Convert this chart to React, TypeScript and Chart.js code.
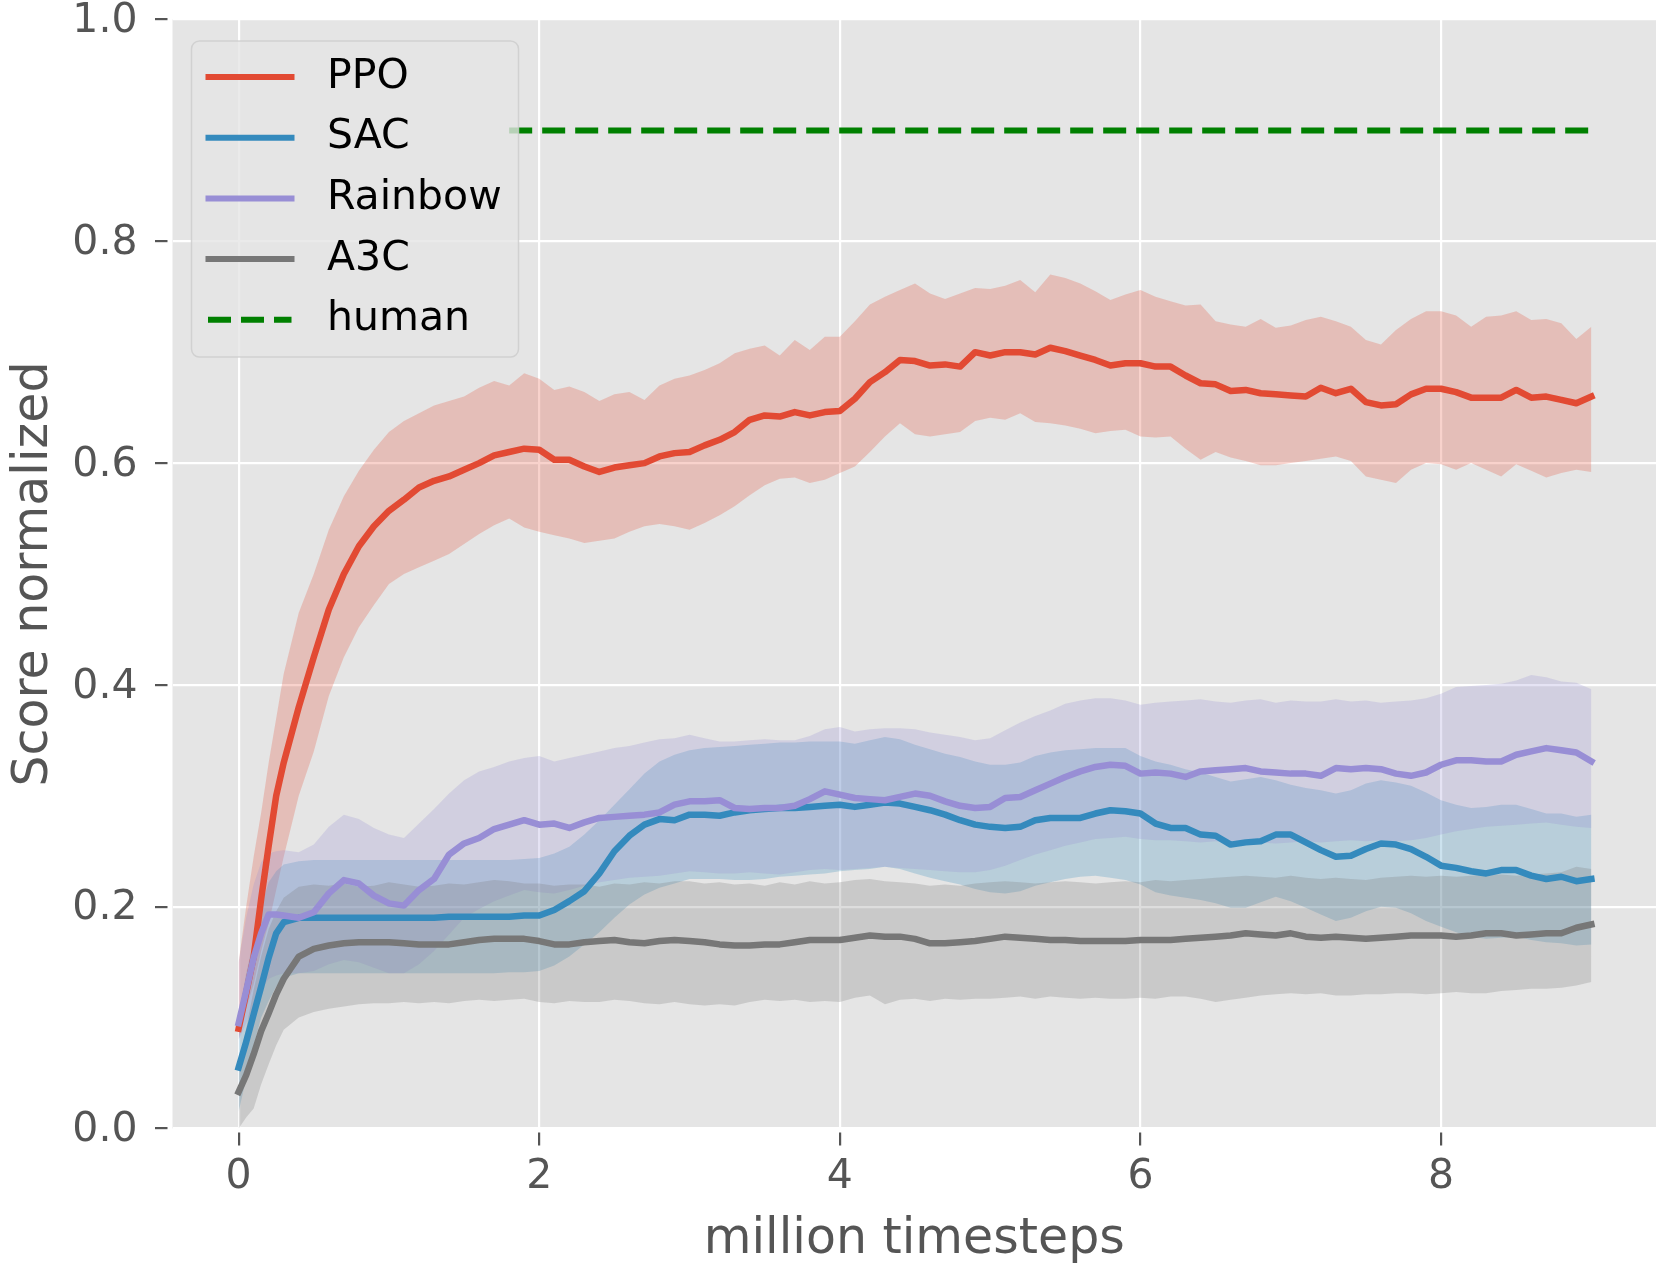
import { useEffect, useRef } from "react"
import { Chart, registerables } from "chart.js"

Chart.register(...registerables)

// million timesteps (finer near the start, where the curves rise fast)
const STEPS = [
  0, 0.05, 0.1, 0.15, 0.2, 0.25,
  0.3, 0.4, 0.5, 0.6, 0.7, 0.8, 0.9, 1.0, 1.1, 1.2,
  1.3, 1.4, 1.5, 1.6, 1.7, 1.8, 1.9, 2.0, 2.1, 2.2,
  2.3, 2.4, 2.5, 2.6, 2.7, 2.8, 2.9, 3.0, 3.1, 3.2,
  3.3, 3.4, 3.5, 3.6, 3.7, 3.8, 3.9, 4.0, 4.1, 4.2,
  4.3, 4.4, 4.5, 4.6, 4.7, 4.8, 4.9, 5.0, 5.1, 5.2,
  5.3, 5.4, 5.5, 5.6, 5.7, 5.8, 5.9, 6.0, 6.1, 6.2,
  6.3, 6.4, 6.5, 6.6, 6.7, 6.8, 6.9, 7.0, 7.1, 7.2,
  7.3, 7.4, 7.5, 7.6, 7.7, 7.8, 7.9, 8.0, 8.1, 8.2,
  8.3, 8.4, 8.5, 8.6, 8.7, 8.8, 8.9, 9.0,
]

const PPO_MEAN = [
  0.090, 0.122, 0.155, 0.207, 0.255, 0.300,
  0.330, 0.380, 0.425, 0.468, 0.500, 0.525, 0.543, 0.557, 0.567, 0.578,
  0.584, 0.588, 0.594, 0.600, 0.607, 0.610, 0.613, 0.612, 0.603, 0.603,
  0.597, 0.592, 0.596, 0.598, 0.600, 0.606, 0.609, 0.610, 0.616, 0.621,
  0.628, 0.639, 0.643, 0.642, 0.646, 0.643, 0.646, 0.647, 0.658, 0.673,
  0.682, 0.693, 0.692, 0.688, 0.689, 0.687, 0.700, 0.697, 0.700, 0.700,
  0.698, 0.704, 0.701, 0.697, 0.693, 0.688, 0.690, 0.690, 0.687, 0.687,
  0.679, 0.672, 0.671, 0.665, 0.666, 0.663, 0.662, 0.661, 0.660, 0.668,
  0.663, 0.667, 0.655, 0.652, 0.653, 0.662, 0.667, 0.667, 0.664, 0.659,
  0.659, 0.659, 0.666, 0.659, 0.660, 0.657, 0.654, 0.660,
]
const PPO_UPPER = [
  0.150, 0.200, 0.245, 0.285, 0.330, 0.370,
  0.410, 0.465, 0.500, 0.540, 0.570, 0.593, 0.612, 0.628, 0.638, 0.645,
  0.652, 0.656, 0.660, 0.668, 0.674, 0.670, 0.681, 0.676, 0.666, 0.669,
  0.664, 0.656, 0.662, 0.664, 0.657, 0.670, 0.676, 0.679, 0.684, 0.690,
  0.699, 0.703, 0.706, 0.697, 0.711, 0.702, 0.714, 0.714, 0.728, 0.743,
  0.750, 0.756, 0.762, 0.753, 0.748, 0.753, 0.758, 0.757, 0.760, 0.765,
  0.754, 0.770, 0.767, 0.762, 0.755, 0.747, 0.752, 0.756, 0.750, 0.746,
  0.742, 0.743, 0.728, 0.725, 0.723, 0.730, 0.722, 0.724, 0.729, 0.732,
  0.728, 0.723, 0.711, 0.707, 0.720, 0.730, 0.737, 0.737, 0.733, 0.723,
  0.732, 0.733, 0.737, 0.729, 0.730, 0.726, 0.712, 0.723,
]
const PPO_LOWER = [
  0.080, 0.108, 0.130, 0.160, 0.185, 0.215,
  0.245, 0.300, 0.340, 0.390, 0.425, 0.452, 0.472, 0.491, 0.500, 0.506,
  0.512, 0.518, 0.527, 0.536, 0.544, 0.550, 0.542, 0.538, 0.535, 0.532,
  0.528, 0.530, 0.532, 0.538, 0.543, 0.545, 0.543, 0.540, 0.546, 0.553,
  0.561, 0.571, 0.580, 0.586, 0.587, 0.582, 0.585, 0.591, 0.597, 0.610,
  0.624, 0.636, 0.626, 0.624, 0.626, 0.628, 0.638, 0.641, 0.639, 0.645,
  0.637, 0.636, 0.634, 0.631, 0.627, 0.629, 0.630, 0.624, 0.623, 0.624,
  0.613, 0.603, 0.610, 0.605, 0.602, 0.598, 0.598, 0.600, 0.602, 0.604,
  0.606, 0.602, 0.588, 0.585, 0.582, 0.594, 0.600, 0.599, 0.594, 0.600,
  0.594, 0.588, 0.599, 0.593, 0.587, 0.591, 0.594, 0.592,
]

const SAC_MEAN = [
  0.055, 0.078, 0.103, 0.128, 0.154, 0.176,
  0.186, 0.190, 0.190, 0.190, 0.190, 0.190, 0.190, 0.190, 0.190, 0.190,
  0.190, 0.191, 0.191, 0.191, 0.191, 0.191, 0.192, 0.192, 0.197, 0.205,
  0.214, 0.230, 0.250, 0.264, 0.274, 0.279, 0.278, 0.283, 0.283, 0.282,
  0.285, 0.287, 0.288, 0.289, 0.289, 0.290, 0.291, 0.292, 0.290, 0.292,
  0.294, 0.293, 0.290, 0.287, 0.283, 0.278, 0.274, 0.272, 0.271, 0.272,
  0.278, 0.280, 0.280, 0.280, 0.284, 0.287, 0.286, 0.284, 0.275, 0.271,
  0.271, 0.265, 0.264, 0.256, 0.258, 0.259, 0.265, 0.265, 0.258, 0.251,
  0.245, 0.246, 0.252, 0.257, 0.256, 0.252, 0.245, 0.237, 0.235, 0.232,
  0.230, 0.233, 0.233, 0.228, 0.225, 0.227, 0.223, 0.225,
]
const SAC_UPPER = [
  0.100, 0.140, 0.170, 0.200, 0.222, 0.232,
  0.238, 0.241, 0.242, 0.242, 0.242, 0.242, 0.242, 0.242, 0.242, 0.242,
  0.242, 0.242, 0.242, 0.242, 0.242, 0.242, 0.243, 0.244, 0.248, 0.254,
  0.265, 0.278, 0.292, 0.306, 0.320, 0.331, 0.337, 0.341, 0.343, 0.344,
  0.345, 0.346, 0.347, 0.348, 0.348, 0.349, 0.349, 0.349, 0.347, 0.350,
  0.353, 0.351, 0.346, 0.342, 0.338, 0.335, 0.331, 0.328, 0.328, 0.330,
  0.336, 0.339, 0.341, 0.342, 0.343, 0.343, 0.343, 0.336, 0.331, 0.328,
  0.324, 0.321, 0.317, 0.313, 0.315, 0.317, 0.314, 0.310, 0.307, 0.305,
  0.302, 0.305, 0.311, 0.314, 0.312, 0.309, 0.303, 0.296, 0.292, 0.289,
  0.290, 0.292, 0.292, 0.288, 0.284, 0.284, 0.281, 0.283,
]
const SAC_LOWER = [
  0.015, 0.045, 0.075, 0.100, 0.115, 0.128,
  0.136, 0.140, 0.140, 0.140, 0.140, 0.140, 0.140, 0.140, 0.140, 0.140,
  0.140, 0.140, 0.140, 0.140, 0.140, 0.141, 0.141, 0.142, 0.147, 0.155,
  0.166, 0.177, 0.190, 0.202, 0.211, 0.217, 0.221, 0.225, 0.225, 0.225,
  0.224, 0.224, 0.225, 0.227, 0.228, 0.229, 0.230, 0.232, 0.233, 0.234,
  0.236, 0.234, 0.230, 0.226, 0.223, 0.220, 0.216, 0.213, 0.212, 0.214,
  0.219, 0.222, 0.225, 0.227, 0.228, 0.226, 0.224, 0.220, 0.213, 0.210,
  0.208, 0.206, 0.203, 0.199, 0.199, 0.204, 0.209, 0.205, 0.199, 0.193,
  0.187, 0.190, 0.196, 0.200, 0.199, 0.194, 0.187, 0.182, 0.177, 0.173,
  0.171, 0.172, 0.173, 0.170, 0.168, 0.167, 0.165, 0.166,
]

const RAINBOW_MEAN = [
  0.095, 0.124, 0.154, 0.176, 0.193, 0.193,
  0.192, 0.190, 0.195, 0.212, 0.224, 0.221, 0.210, 0.203, 0.201, 0.215,
  0.225, 0.247, 0.257, 0.262, 0.270, 0.274, 0.278, 0.274, 0.275, 0.271,
  0.276, 0.280, 0.281, 0.282, 0.283, 0.285, 0.292, 0.295, 0.295, 0.296,
  0.289, 0.288, 0.289, 0.289, 0.291, 0.297, 0.304, 0.301, 0.298, 0.297,
  0.296, 0.299, 0.302, 0.300, 0.295, 0.291, 0.289, 0.290, 0.298, 0.299,
  0.305, 0.311, 0.317, 0.322, 0.326, 0.328, 0.327, 0.320, 0.321, 0.320,
  0.317, 0.322, 0.323, 0.324, 0.325, 0.322, 0.321, 0.320, 0.320, 0.318,
  0.325, 0.324, 0.325, 0.324, 0.320, 0.318, 0.321, 0.328, 0.332, 0.332,
  0.331, 0.331, 0.337, 0.340, 0.343, 0.341, 0.339, 0.331,
]
const RAINBOW_UPPER = [
  0.150, 0.190, 0.220, 0.240, 0.248, 0.250,
  0.251, 0.249, 0.256, 0.272, 0.283, 0.279, 0.271, 0.265, 0.262, 0.275,
  0.288, 0.302, 0.314, 0.322, 0.326, 0.331, 0.334, 0.336, 0.331, 0.334,
  0.337, 0.340, 0.343, 0.345, 0.348, 0.351, 0.352, 0.355, 0.352, 0.349,
  0.349, 0.350, 0.351, 0.350, 0.350, 0.354, 0.360, 0.362, 0.358, 0.360,
  0.361, 0.361, 0.360, 0.357, 0.355, 0.353, 0.350, 0.352, 0.359, 0.366,
  0.372, 0.377, 0.383, 0.386, 0.388, 0.388, 0.386, 0.382, 0.384, 0.385,
  0.386, 0.387, 0.385, 0.384, 0.386, 0.387, 0.384, 0.386, 0.385, 0.385,
  0.387, 0.385, 0.386, 0.384, 0.385, 0.386, 0.388, 0.392, 0.398, 0.399,
  0.400, 0.401, 0.404, 0.409, 0.407, 0.403, 0.402, 0.396,
]
const RAINBOW_LOWER = [
  0.080, 0.095, 0.110, 0.125, 0.135, 0.138,
  0.140, 0.140, 0.142, 0.148, 0.152, 0.150, 0.145, 0.140, 0.140, 0.148,
  0.160, 0.175, 0.190, 0.198, 0.205, 0.210, 0.215, 0.213, 0.212, 0.215,
  0.219, 0.222, 0.224, 0.226, 0.227, 0.228, 0.230, 0.232, 0.231, 0.230,
  0.230, 0.231, 0.230, 0.229, 0.231, 0.233, 0.234, 0.233, 0.234, 0.235,
  0.236, 0.235, 0.234, 0.233, 0.232, 0.231, 0.231, 0.233, 0.237, 0.242,
  0.247, 0.251, 0.255, 0.258, 0.261, 0.262, 0.263, 0.261, 0.260, 0.260,
  0.259, 0.258, 0.259, 0.258, 0.257, 0.258, 0.257, 0.258, 0.259, 0.258,
  0.259, 0.260, 0.259, 0.260, 0.259, 0.260, 0.262, 0.265, 0.268, 0.270,
  0.272, 0.273, 0.274, 0.275, 0.276, 0.274, 0.272, 0.271,
]

const A3C_MEAN = [
  0.033, 0.048, 0.067, 0.088, 0.104, 0.121,
  0.135, 0.155, 0.162, 0.165, 0.167, 0.168, 0.168, 0.168, 0.167, 0.166,
  0.166, 0.166, 0.168, 0.170, 0.171, 0.171, 0.171, 0.169, 0.166, 0.166,
  0.168, 0.169, 0.170, 0.168, 0.167, 0.169, 0.170, 0.169, 0.168, 0.166,
  0.165, 0.165, 0.166, 0.166, 0.168, 0.170, 0.170, 0.170, 0.172, 0.174,
  0.173, 0.173, 0.171, 0.167, 0.167, 0.168, 0.169, 0.171, 0.173, 0.172,
  0.171, 0.170, 0.170, 0.169, 0.169, 0.169, 0.169, 0.170, 0.170, 0.170,
  0.171, 0.172, 0.173, 0.174, 0.176, 0.175, 0.174, 0.176, 0.173, 0.172,
  0.173, 0.172, 0.171, 0.172, 0.173, 0.174, 0.174, 0.174, 0.173, 0.174,
  0.176, 0.176, 0.174, 0.175, 0.176, 0.176, 0.181, 0.184,
]
const A3C_UPPER = [
  0.060, 0.090, 0.125, 0.155, 0.180, 0.196,
  0.208, 0.218, 0.220, 0.219, 0.221, 0.218, 0.219, 0.222, 0.220, 0.218,
  0.219, 0.221, 0.220, 0.222, 0.224, 0.223, 0.221, 0.221, 0.219, 0.220,
  0.220, 0.218, 0.221, 0.220, 0.222, 0.221, 0.223, 0.223, 0.221, 0.222,
  0.220, 0.221, 0.219, 0.222, 0.220, 0.223, 0.221, 0.222, 0.224, 0.225,
  0.223, 0.222, 0.221, 0.219, 0.220, 0.219, 0.221, 0.222, 0.223, 0.222,
  0.221, 0.222, 0.223, 0.222, 0.221, 0.222, 0.223, 0.222, 0.224, 0.223,
  0.224, 0.225, 0.226, 0.227, 0.228, 0.227, 0.226, 0.228, 0.226, 0.225,
  0.226, 0.225, 0.224, 0.226, 0.227, 0.228, 0.227, 0.228, 0.227, 0.228,
  0.229, 0.229, 0.228, 0.229, 0.230, 0.231, 0.236, 0.234,
]
const A3C_LOWER = [
  0.000, 0.010, 0.018, 0.040, 0.058, 0.075,
  0.089, 0.100, 0.105, 0.108, 0.110, 0.112, 0.113, 0.113, 0.114, 0.113,
  0.114, 0.113, 0.115, 0.116, 0.115, 0.116, 0.117, 0.114, 0.113, 0.115,
  0.114, 0.114, 0.116, 0.115, 0.113, 0.112, 0.114, 0.112, 0.111, 0.112,
  0.111, 0.114, 0.116, 0.115, 0.116, 0.114, 0.115, 0.114, 0.118, 0.120,
  0.112, 0.116, 0.117, 0.115, 0.117, 0.116, 0.117, 0.117, 0.118, 0.119,
  0.117, 0.119, 0.118, 0.117, 0.118, 0.117, 0.117, 0.118, 0.117, 0.119,
  0.119, 0.117, 0.114, 0.116, 0.118, 0.120, 0.121, 0.122, 0.121, 0.122,
  0.120, 0.120, 0.121, 0.121, 0.122, 0.122, 0.121, 0.122, 0.123, 0.122,
  0.122, 0.124, 0.125, 0.126, 0.126, 0.127, 0.129, 0.132,
]

const HUMAN_X = [1.8, 9.0]
const HUMAN_Y = [0.9, 0.9]

const X_TICKS = [0, 2, 4, 6, 8]
const Y_TICKS = [0, 0.2, 0.4, 0.6, 0.8, 1.0]

const LABELS = ["PPO", "SAC", "Rainbow", "A3C", "human"]
const COLORS = ["#E24A33", "#348ABD", "#988ED5", "#777777", "#008000"]
const BAND_COLORS = [
  "rgba(226, 74, 51, 0.25)",
  "rgba(52, 138, 189, 0.25)",
  "rgba(152, 142, 213, 0.25)",
  "rgba(119, 119, 119, 0.25)",
]

const FONT = "'DejaVu Sans', sans-serif"
const INK = "#555555"

const toPoints = (xs: number[], ys: number[]) => xs.map((x, i) => ({ x, y: ys[i] }))

function bandSets(lower: number[], upper: number[], color: string, order: number) {
  return [
    { data: toPoints(STEPS, lower), borderWidth: 0, borderColor: "transparent", pointRadius: 0, fill: false, order },
    { data: toPoints(STEPS, upper), borderWidth: 0, borderColor: "transparent", pointRadius: 0, fill: "-1", backgroundColor: color, order },
  ]
}

function meanSet(values: number[], color: string, order: number) {
  return {
    data: toPoints(STEPS, values),
    borderColor: color,
    borderWidth: 6.5,
    borderCapStyle: "square",
    borderJoinStyle: "round",
    pointRadius: 0,
    fill: false,
    order,
  }
}

// grey panel behind the grid
const panelBackground = {
  id: "panelBackground",
  beforeDraw(chart: any) {
    const { ctx, chartArea: a } = chart
    ctx.save()
    ctx.fillStyle = "#E5E5E5"
    ctx.fillRect(a.left, a.top, a.right - a.left, a.bottom - a.top)
    ctx.restore()
  },
}

// matplotlib-like legend box in the upper left corner
const insetLegend = {
  id: "insetLegend",
  afterDraw(chart: any) {
    const { ctx, chartArea: a } = chart
    const left = a.left + 19
    const top = a.top + 21.5
    ctx.save()
    ctx.beginPath()
    ctx.roundRect(left, top, 327, 316, 8)
    ctx.fillStyle = "rgba(229, 229, 229, 0.8)"
    ctx.fill()
    ctx.lineWidth = 1.5
    ctx.strokeStyle = "rgba(204, 204, 204, 0.8)"
    ctx.stroke()
    LABELS.forEach((label, i) => {
      const y = top + 36 + i * 60.7
      ctx.beginPath()
      ctx.strokeStyle = COLORS[i]
      ctx.lineWidth = 6
      if (label === "human") {
        ctx.setLineDash([23, 10])
        ctx.lineCap = "butt"
        ctx.moveTo(left + 16.5, y)
        ctx.lineTo(left + 100, y)
      } else {
        ctx.setLineDash([])
        ctx.lineCap = "square"
        ctx.moveTo(left + 17, y)
        ctx.lineTo(left + 100, y)
      }
      ctx.stroke()
      ctx.setLineDash([])
      ctx.fillStyle = "#000000"
      ctx.font = `41px ${FONT}`
      ctx.textAlign = "left"
      ctx.textBaseline = "middle"
      ctx.fillText(label, left + 135.5, y)
    })
    ctx.restore()
  },
}

export default function App() {
  const chartRef = useRef<HTMLCanvasElement>(null)
  const chartInstance = useRef<Chart | null>(null)

  useEffect(() => {
    document.body.style.margin = "0"
    if (!chartRef.current) return

    if (chartInstance.current) {
      chartInstance.current.destroy()
    }

    const ctx = chartRef.current.getContext("2d")
    if (!ctx) return

    chartInstance.current = new Chart(ctx, {
      type: "line",
      data: {
        datasets: [
          ...bandSets(PPO_LOWER, PPO_UPPER, BAND_COLORS[0], 40),
          ...bandSets(SAC_LOWER, SAC_UPPER, BAND_COLORS[1], 30),
          ...bandSets(RAINBOW_LOWER, RAINBOW_UPPER, BAND_COLORS[2], 20),
          ...bandSets(A3C_LOWER, A3C_UPPER, BAND_COLORS[3], 10),
          meanSet(PPO_MEAN, COLORS[0], 5),
          meanSet(SAC_MEAN, COLORS[1], 4),
          meanSet(RAINBOW_MEAN, COLORS[2], 3),
          meanSet(A3C_MEAN, COLORS[3], 2),
          {
            data: toPoints(HUMAN_X, HUMAN_Y),
            borderColor: COLORS[4],
            borderWidth: 6,
            borderDash: [23, 10],
            borderCapStyle: "butt",
            pointRadius: 0,
            fill: false,
            order: 1,
          },
        ] as any,
      },
      options: {
        responsive: true,
        maintainAspectRatio: false,
        animation: false,
        events: [],
        layout: { padding: { left: 0, right: 17, top: 19.5, bottom: 0 } },
        scales: {
          x: {
            type: "linear",
            min: -0.44,
            max: 9.43,
            afterBuildTicks: (scale: any) => {
              scale.ticks = X_TICKS.map((value) => ({ value }))
            },
            afterFit: (scale: any) => {
              scale.height = 158.5
              scale.paddingLeft = 0
              scale.paddingRight = 0
            },
            border: { display: false },
            grid: {
              color: "#FFFFFF",
              lineWidth: 2.2,
              drawTicks: true,
              tickLength: 17.5,
              tickColor: INK,
              tickWidth: 2.2,
              tickBorderDash: [0, 3.5, 13, 100],
            },
            ticks: {
              color: INK,
              font: { family: FONT, size: 41 },
              padding: 6.5,
              maxRotation: 0,
              callback: (v: any) => String(v),
            },
            title: {
              display: true,
              text: "million timesteps",
              color: INK,
              font: { family: FONT, size: 49 },
              padding: { top: 0, bottom: 17.5 },
            },
          },
          y: {
            type: "linear",
            min: 0,
            max: 1,
            afterBuildTicks: (scale: any) => {
              scale.ticks = Y_TICKS.map((value) => ({ value }))
            },
            afterFit: (scale: any) => {
              scale.width = 172.5
              scale.paddingTop = 0
              scale.paddingBottom = 0
            },
            border: { display: false },
            grid: {
              color: "#FFFFFF",
              lineWidth: 2.2,
              drawTicks: true,
              tickLength: 17.5,
              tickColor: INK,
              tickWidth: 2.2,
              tickBorderDash: [12.5, 100],
            },
            ticks: {
              color: INK,
              font: { family: FONT, size: 41 },
              padding: 17.5,
              labelOffset: 2,
              callback: (v: any) => Number(v).toFixed(1),
            },
            title: {
              display: true,
              text: "Score normalized",
              color: INK,
              font: { family: FONT, size: 49 },
              padding: { top: 4.5, bottom: 0 },
            },
          },
        },
        plugins: {
          legend: { display: false },
          tooltip: { enabled: false },
        },
      },
      plugins: [panelBackground, insetLegend],
    })

    return () => {
      if (chartInstance.current) {
        chartInstance.current.destroy()
        chartInstance.current = null
      }
    }
  }, [])

  return (
    <div style={{ position: "relative", width: "1673px", height: "1287px" }}>
      <canvas ref={chartRef} />
    </div>
  )
}
